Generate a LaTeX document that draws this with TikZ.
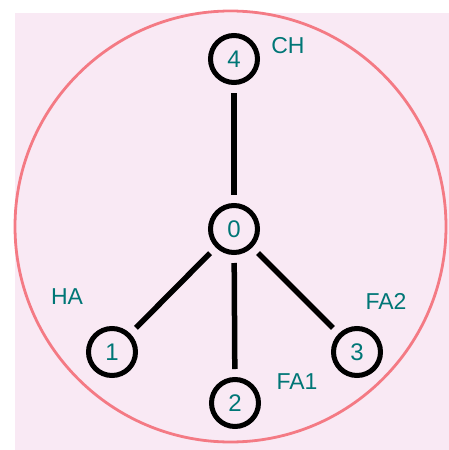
\documentclass[tikz,border=0pt]{standalone}
\usepackage{fontspec}
\setmainfont{Liberation Sans}
\usepackage{xcolor}
\usetikzlibrary{positioning}

\definecolor{bgpink}{RGB}{249,233,244}
\definecolor{ringred}{RGB}{244,122,132}
\definecolor{digitteal}{RGB}{0,118,118}

\begin{document}
\begin{tikzpicture}[x=1pt,y=-1pt,
  vertex/.style={shape=circle,draw=black,line width=5pt,minimum size=47pt,inner sep=0pt,
                 text=digitteal,font=\fontsize{24}{24}\selectfont},
  tag/.style={text=digitteal,font=\fontsize{23}{23}\selectfont,inner sep=0pt},
  link/.style={line width=5.5pt,shorten <=8pt,shorten >=8pt}]

  \useasboundingbox (0,0) rectangle (449,450);

  % background and outer ring
  \fill[bgpink] (15,13) rectangle (449,450);
  \draw[ringred,line width=2.8pt] (230.5,226.5) circle (215.5);

  % vertices
  \node[vertex] (n0) at (234,229) {0};
  \node[vertex] (n1) at (112,352) {1};
  \node[vertex] (n2) at (235,403) {2};
  \node[vertex] (n3) at (357,352) {3};
  \node[vertex] (n4) at (234,59) {4};

  % edges
  \draw[link] (n4) -- (n0);
  \draw[link] (n0) -- (n1);
  \draw[link] (n0) -- (n2);
  \draw[link] (n0) -- (n3);

  % labels
  \node[tag] (ch)  at (288,46)  {CH};
  \node[tag] (ha)  at (67,297)  {HA};
  \node[tag] (fa1) at (297,382) {FA1};
  \node[tag] (fa2) at (386,301) {FA2};

\end{tikzpicture}
\end{document}
